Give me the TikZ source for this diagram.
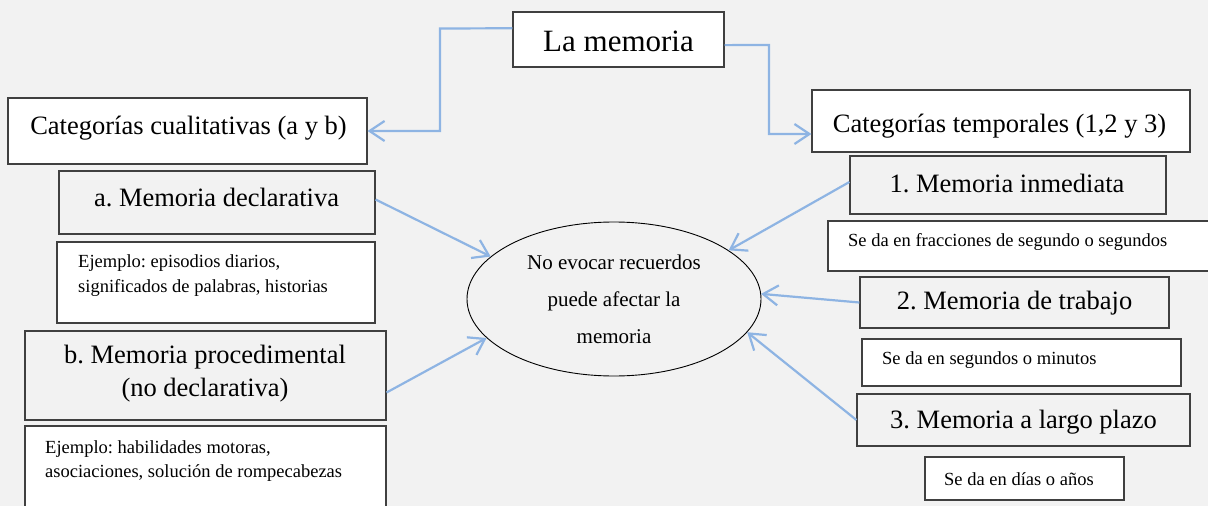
\documentclass[tikz,border=0pt]{standalone}
\usepackage{fontspec}
\setmainfont{Liberation Serif}
\usetikzlibrary{shapes.geometric,arrows.meta,calc}
\definecolor{bg}{RGB}{242,242,242}
\definecolor{arrblue}{RGB}{142,180,227}
\definecolor{boxline}{RGB}{64,64,64}
\frenchspacing
\begin{document}
\begin{tikzpicture}[x=1pt,y=-1pt,
  wbox/.style={draw=boxline,line width=1.2pt,fill=white,inner sep=0pt},
  gbox/.style={draw=boxline,line width=1.2pt,fill=bg,inner sep=0pt},
  bigtxt/.style={inner sep=0pt,font=\fontsize{31}{37}\selectfont},
  midtxt/.style={inner sep=0pt,font=\fontsize{26.5}{33}\selectfont,align=center},
  smalltxt/.style={inner sep=0pt,font=\fontsize{18.5}{25}\selectfont,align=left,anchor=west},
  conn/.style={draw=arrblue,line width=2.2pt,-{Straight Barb[length=15pt,width=20pt]}}]
\fill[bg] (0,0) rectangle (1208,506);
\useasboundingbox (0,0) rectangle (1208,506);
\clip (0,0) rectangle (1208,506);

% top
\node[wbox,minimum width=211pt,minimum height=55pt] (mem) at (618.5,39.5) {};
\node[bigtxt] (memt) at (618.5,41) {La memoria};

% left column
\node[wbox,minimum width=359pt,minimum height=66pt] (catq) at (187.5,131) {};
\node[midtxt] (catqt) at (188.5,128) {Categorías cualitativas (a y b)};

\node[gbox,minimum width=316pt,minimum height=63pt] (decl) at (217,202.5) {};
\node[midtxt] (declt) at (216.5,197) {a. Memoria declarativa};

\node[wbox,minimum width=318pt,minimum height=81pt] (ej1) at (216,282.5) {};
\node[smalltxt] (ej1t) at (78,275.5) {Ejemplo: episodios diarios,\\significados de palabras, historias};

\node[gbox,minimum width=361pt,minimum height=89pt] (proc) at (205.5,375.5) {};
\node[midtxt] (proct) at (205,373.5) {b. Memoria procedimental\\(no declarativa)};

\node[wbox,minimum width=361pt,minimum height=100pt] (ej2) at (205.5,476) {};
\node[smalltxt,font=\fontsize{18.5}{24}\selectfont] (ej2t) at (45,461) {Ejemplo: habilidades motoras,\\asociaciones, solución de rompecabezas};

% right column
\node[wbox,minimum width=378pt,minimum height=62pt] (catt) at (1001,121) {};
\node[midtxt] (cattt) at (999.5,126) {Categorías temporales (1,2 y 3)};

\node[gbox,minimum width=316pt,minimum height=58pt] (inm) at (1008,185) {};
\node[midtxt] (inmt) at (1007,183) {1. Memoria inmediata};

\node[wbox,minimum width=390pt,minimum height=50pt] (frac) at (1023,246) {};
\node[smalltxt] (fract) at (848,242) {Se da en fracciones de segundo o segundos};

\node[gbox,minimum width=309pt,minimum height=51pt] (trab) at (1014.5,302.5) {};
\node[midtxt] (trabt) at (1014.5,303) {2. Memoria de trabajo};

\node[wbox,minimum width=319pt,minimum height=47pt] (seg) at (1021.5,362.5) {};
\node[smalltxt] (segt) at (882,360) {Se da en segundos o minutos};

\node[gbox,minimum width=333pt,minimum height=52pt] (largo) at (1023.5,420) {};
\node[midtxt] (largot) at (1023.5,422) {3. Memoria a largo plazo};

\node[wbox,minimum width=199pt,minimum height=43pt] (dias) at (1024.5,478.5) {};
\node[smalltxt] (diast) at (944,479) {Se da en días o años};

% centre ellipse
\node[ellipse,draw=black,line width=0.9pt,fill=bg,inner sep=0pt,
      minimum width=294pt,minimum height=154pt,
      font=\fontsize{21}{37}\selectfont,align=center] (ell) at (614,299)
  {No evocar recuerdos\\puede afectar la\\memoria};

% connectors
\draw[conn] ($(mem.north west)!0.3!(mem.south west)$) -- (440,28.5) |- (catq.east);
\draw[conn] ($(mem.north east)!0.6!(mem.south east)$) -- (769,45) |- ([yshift=-13pt]catt.west);

\draw[conn] ([yshift=3pt]decl.east) -- (ell.161);
\draw[conn] ([yshift=-17pt]proc.east) -- (ell.197);
\draw[conn] ([yshift=3pt]inm.west) -- (ell.23);
\draw[conn] (trab.west) -- (ell.2);
\draw[conn] (largo.west) -- (ell.-14);
\end{tikzpicture}
\end{document}
